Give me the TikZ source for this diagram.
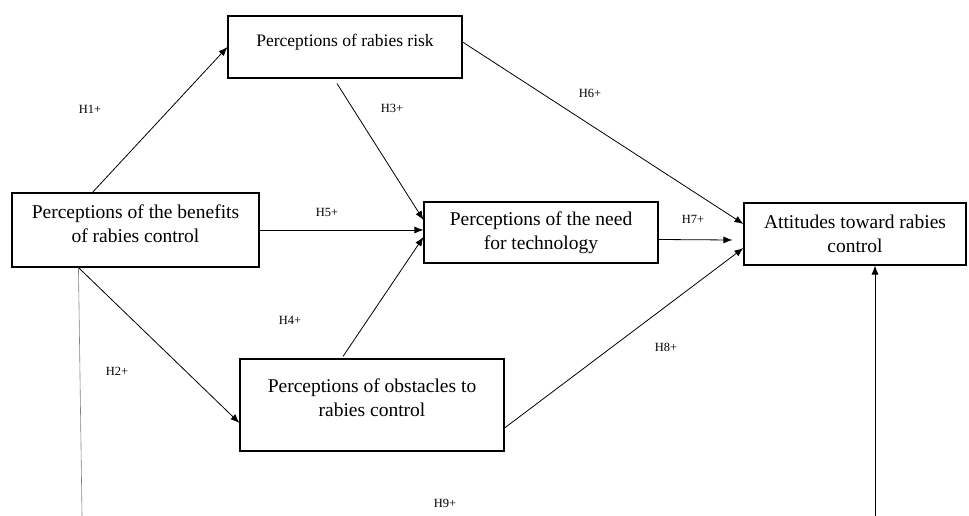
\documentclass[tikz,border=0pt]{standalone}
\usepackage{fontspec}
\setmainfont{Liberation Serif}
\usetikzlibrary{arrows.meta}

\tikzset{
  construct/.style={draw, line width=1.1pt, align=center, inner sep=2pt,
    font=\fontsize{19.5}{24}\selectfont},
  hyp/.style={font=\fontsize{12.5}{14}\selectfont},
  path/.style={->, line width=.8pt},
}

\begin{document}
\begin{tikzpicture}[x=1pt,y=-1pt,>={Latex[length=9pt,width=7pt]}]
      \useasboundingbox (0,0) rectangle (969,516);
      % constructs
      \node[construct, minimum width=234pt, minimum height=62pt, text depth=14pt,
        font=\fontsize{17.5}{21}\selectfont] (risk) at (345,47) {Perceptions of rabies risk};
      \node[construct, minimum width=247pt, minimum height=74pt, text depth=12pt]
        (benefits) at (135.5,230) {Perceptions of the benefits\\of rabies control};
      \node[construct, minimum width=234pt, minimum height=61pt]
        (need) at (541,232.5) {Perceptions of the need\\for technology};
      \node[construct, minimum width=222pt, minimum height=62pt]
        (attitudes) at (855,234) {Attitudes toward rabies\\control};
      \node[construct, minimum width=264pt, minimum height=92pt, text depth=14pt]
        (obstacles) at (372,405) {Perceptions of obstacles to\\rabies control};
      \coordinate (foot) at (82,516);
      \coordinate (base) at (875,516);
      % paths
      \draw[path] ([xshift=81pt]benefits.north west) -- (risk.west);
      \draw[path] ([xshift=67pt]benefits.south west) -- ([yshift=-18pt]obstacles.west);
      \draw[path] ([xshift=-8pt,yshift=-5pt]risk.south) -- ([yshift=12.5pt]need.west);
      \draw[path] ([xshift=-29pt,yshift=2pt]obstacles.north) -- ([yshift=-4.5pt]need.west);
      \draw[path] (benefits.east) -- (benefits.east -| need.west);
      \draw[path] ([yshift=5pt]risk.east) -- ([yshift=10pt]attitudes.west);
      \draw[path] ([yshift=-7pt]need.east) -- ([xshift=-11pt,yshift=-6pt]attitudes.west);
      \draw[path] ([yshift=-23pt]obstacles.east) -- ([yshift=-14pt]attitudes.west);
      \draw[gray, line width=.6pt] ([xshift=67pt]benefits.south west) -- (foot);
      \draw[path] (base) -- (base |- attitudes.south);
      % hypotheses
      \foreach \h/\x/\y in {1/90/109, 2/117/371, 3/392/108, 4/290/320, 5/327/212,
                            6/590/93, 7/693/219, 8/666/347, 9/445/503} {
        \node[hyp] (h\h) at (\x,\y) {H\h+};
      }
\end{tikzpicture}
\end{document}
